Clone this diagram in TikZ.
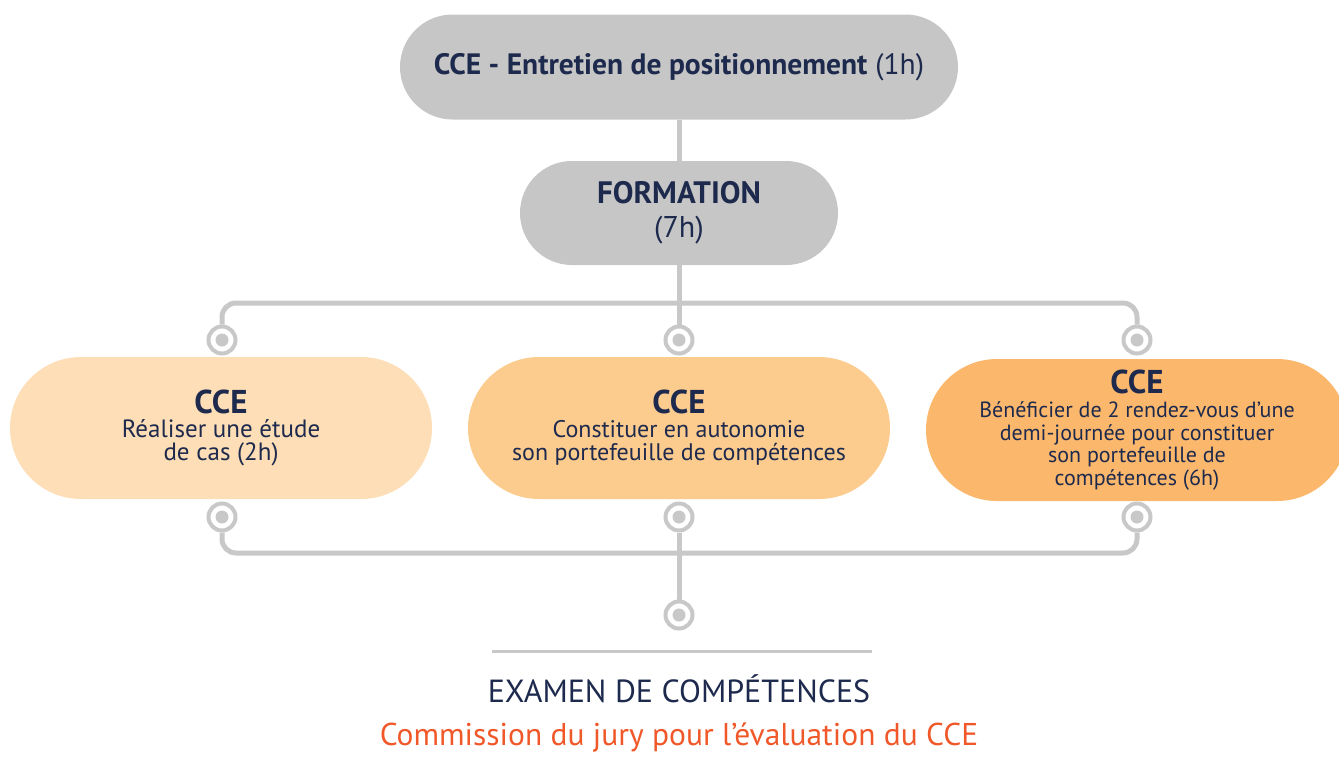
\documentclass[tikz,border=0pt]{standalone}
\usepackage{fontspec}
\setmainfont{PT Sans}
\usepackage{tikz}
\usetikzlibrary{
    positioning,
    shapes.misc,
    calc
}
\definecolor{boxGray}{RGB}{197, 198, 197}
\definecolor{lineGray}{RGB}{200, 200, 200}
\definecolor{peachA}{RGB}{253, 222, 182}
\definecolor{peachB}{RGB}{252, 203, 142}
\definecolor{peachC}{RGB}{251, 184, 108}
\definecolor{navyText}{RGB}{30, 42, 77}
\definecolor{juryOrange}{RGB}{240, 88, 42}
\tikzset{
    pill/.style={rounded rectangle, inner sep=0pt, text=navyText, align=center},
    ccebox/.style={pill, minimum width=422pt, minimum height=142pt},
    ring/.style={circle, draw=lineGray, line width=4pt, fill=white,
        minimum size=27pt, inner sep=0pt,
        path picture={\fill[lineGray] (path picture bounding box.center) circle (6.5pt);}},
    link/.style={draw=lineGray, line width=5pt, rounded corners=14pt}
}
\newcommand{\ccetitle}{{\fontsize{33}{28}\selectfont\bfseries CCE}}

\begin{document}
\begin{tikzpicture}[x=1pt, y=-1pt]
        \useasboundingbox (0,0) rectangle (1339,772);

        \node[pill, fill=boxGray, minimum width=558pt, minimum height=105pt,
            font=\fontsize{29.5}{32}\selectfont] (entretien) at (679,67)
            {\textbf{CCE - Entretien de positionnement} (1h)};
        \node[pill, fill=boxGray, minimum width=318pt, minimum height=104pt,
            font=\fontsize{30}{34}\selectfont] (formation) at (679,213)
            {{\fontsize{31}{34}\selectfont\bfseries FORMATION}\\(7h)};

        \node[ring] (topL) at (222,340) {};
        \node[ring] (topM) at (679,340) {};
        \node[ring] (topR) at (1137,340) {};
        \coordinate (hubTop) at (679,303);

        \node[ccebox, fill=peachA, font=\fontsize{25}{23}\selectfont] (etude) at (221,428)
            {\ccetitle\\[1pt]Réaliser une étude\\de cas (2h)};
        \node[ccebox, fill=peachB, font=\fontsize{24}{23}\selectfont] (autonomie) at (679,428)
            {\ccetitle\\[1pt]Constituer en autonomie\\son portefeuille de compétences};
        \node[ccebox, fill=peachC, font=\fontsize{22}{22.5}\selectfont] (rendezvous) at (1137,430)
            {\ccetitle\\[2pt]Bénéficier de 2 rendez-vous d’une\\demi-journée pour constituer\\son portefeuille de\\compétences (6h)};

        \node[ring] (botL) at (222,517) {};
        \node[ring] (botM) at (679,517) {};
        \node[ring] (botR) at (1137,517) {};
        \coordinate (hubBot) at (679,553);
        \node[ring] (examen) at (679,615) {};

        \draw[link] (entretien.south) -- (formation.north);
        \draw[link] (formation.south) -- (topM.north);
        \draw[link] (topL.north) |- (hubTop) -| (topR.north);
        \draw[link] (botL.south) |- (hubBot) -| (botR.south);
        \draw[link] (botM.south) -- (examen.north);

        \draw[lineGray, line width=3pt] (492,651) -- (872,651);
        \node[text=navyText, font=\fontsize{32}{34}\selectfont] (examTitle) at (679,689)
            {EXAMEN DE COMPÉTENCES};
        \node[text=juryOrange, font=\fontsize{31.5}{34}\selectfont] (jury) at (679,737)
            {Commission du jury pour l’évaluation du CCE};
    \end{tikzpicture}
\end{document}
